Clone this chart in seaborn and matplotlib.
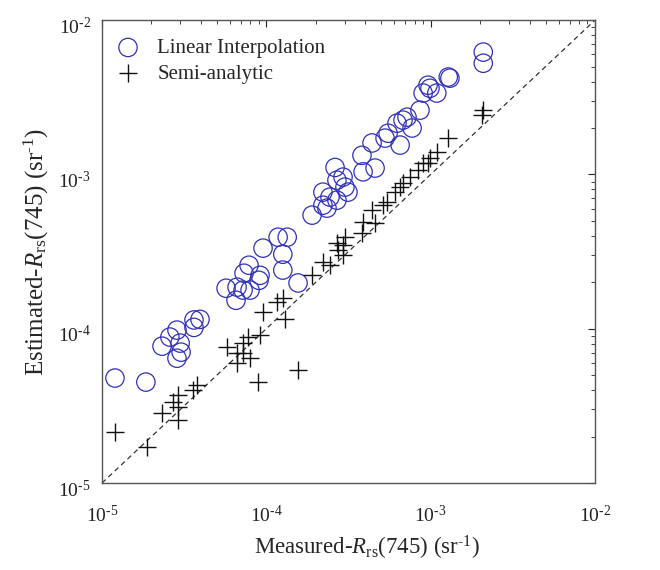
import numpy as np
import pandas as pd
import matplotlib
matplotlib.use("Agg")
import matplotlib.pyplot as plt
import matplotlib.transforms as mtransforms
import seaborn as sns
from matplotlib.ticker import LogLocator, FuncFormatter, NullFormatter

# ---- data ----
li_measured = [1.20e-5, 1.85e-5, 2.32e-5, 2.59e-5, 2.86e-5, 2.99e-5, 3.03e-5, 2.86e-5,
               3.63e-5, 3.63e-5, 3.95e-5, 5.69e-5, 6.64e-5, 6.54e-5, 7.22e-5, 7.96e-5,
               7.85e-5, 7.32e-5, 9.16e-5, 9.03e-5, 9.55e-5, 1.18e-4, 1.34e-4, 1.26e-4,
               1.26e-4, 1.56e-4, 2.09e-3, 2.09e-3, 1.28e-3, 1.31e-3, 9.00e-4, 9.91e-4,
               1.09e-3, 9.64e-4, 8.61e-4, 7.18e-4, 6.79e-4, 6.24e-4, 7.71e-4, 5.51e-4,
               5.28e-4, 6.52e-4, 4.40e-4, 3.82e-4, 4.59e-4, 3.88e-4, 2.62e-4, 2.93e-4,
               2.69e-4, 3.01e-4, 3.14e-4, 2.21e-4, 2.44e-4, 2.69e-4, 2.21e-4, 2.34e-4,
               1.90e-4]
li_estimated = [4.79e-5, 4.51e-5, 7.71e-5, 8.83e-5, 9.80e-5, 8.07e-5, 7.05e-5, 6.44e-5,
                1.02e-4, 1.14e-4, 1.15e-4, 1.83e-4, 1.86e-4, 1.53e-4, 1.78e-4, 1.78e-4,
                2.58e-4, 2.29e-4, 2.22e-4, 2.06e-4, 3.33e-4, 3.92e-4, 3.92e-4, 3.04e-4,
                2.40e-4, 1.98e-4, 6.21e-3, 5.26e-3, 4.28e-3, 4.21e-3, 3.37e-3, 3.62e-3,
                3.37e-3, 3.79e-3, 2.61e-3, 2.35e-3, 2.25e-3, 2.15e-3, 2.00e-3, 1.85e-3,
                1.72e-3, 1.55e-3, 1.60e-3, 1.33e-3, 1.10e-3, 1.04e-3, 1.11e-3, 9.61e-4,
                9.18e-4, 8.28e-4, 7.68e-4, 7.68e-4, 7.13e-4, 6.81e-4, 6.32e-4, 6.05e-4,
                5.45e-4]

sa_measured = [2.09e-3, 2.06e-3, 1.28e-3, 1.09e-3, 9.91e-4, 9.00e-4, 9.64e-4, 8.37e-4,
               7.50e-4, 6.79e-4, 6.52e-4, 6.07e-4, 5.43e-4, 5.13e-4, 4.40e-4, 3.88e-4,
               4.59e-4, 3.82e-4, 3.01e-4, 2.69e-4, 2.93e-4, 2.73e-4, 2.93e-4, 2.21e-4,
               2.44e-4, 1.90e-4, 1.26e-4, 1.16e-4, 9.55e-5, 1.30e-4, 9.16e-5, 7.74e-5,
               7.22e-5, 5.77e-5, 6.64e-5, 7.22e-5, 7.96e-5, 6.64e-5, 1.56e-4, 8.89e-5,
               3.78e-5, 3.58e-5, 2.90e-5, 2.70e-5, 2.32e-5, 2.90e-5, 2.90e-5, 1.20e-5,
               1.88e-5]
sa_estimated = [2.61e-3, 2.42e-3, 1.72e-3, 1.40e-3, 1.28e-3, 1.18e-3, 1.18e-3, 1.07e-3,
                9.61e-4, 8.80e-4, 8.28e-4, 7.68e-4, 6.61e-4, 6.32e-4, 5.87e-4, 4.91e-4,
                4.83e-4, 4.17e-4, 3.93e-4, 3.59e-4, 3.48e-4, 3.23e-4, 3.00e-4, 2.70e-4,
                2.58e-4, 2.22e-4, 1.58e-4, 1.49e-4, 1.28e-4, 1.15e-4, 9.10e-5, 8.83e-5,
                8.07e-5, 7.60e-5, 6.95e-5, 6.95e-5, 6.44e-5, 5.98e-5, 5.39e-5, 4.51e-5,
                4.31e-5, 4.00e-5, 3.72e-5, 3.34e-5, 2.84e-5, 3.10e-5, 2.56e-5, 2.14e-5,
                1.71e-5]

series_names = ["Linear Interpolation", "Semi-analytic"]
axis_limits = [1e-5, 1e-2]

# ---- styling ----
sns.set_style("white")
plt.rcParams["font.family"] = ["Liberation Serif", "DejaVu Serif"]
plt.rcParams["mathtext.fontset"] = "custom"
plt.rcParams["mathtext.rm"] = "Liberation Serif"
plt.rcParams["mathtext.it"] = "Liberation Serif:italic"
plt.rcParams["mathtext.bf"] = "Liberation Serif:bold"

HY = "\u2010"  # hyphen, like the reference's superscript sign

fig = plt.figure(figsize=(6.6, 5.7), dpi=100)
ax = fig.add_axes([0.1545, 0.1526, 0.747, 0.812])

df_li = pd.DataFrame({"x": li_measured, "y": li_estimated})
df_sa = pd.DataFrame({"x": sa_measured, "y": sa_estimated})

blue = "#3030b8"
sns.scatterplot(data=df_li, x="x", y="y", marker="o", s=175, color=blue,
                edgecolor=blue, linewidth=0.9, label=series_names[0], ax=ax)
ax.collections[-1].set_facecolor("none")
sns.scatterplot(data=df_sa, x="x", y="y", marker="+", s=150, color="#111111",
                linewidth=1.0, label=series_names[1], ax=ax)

ax.plot(axis_limits, axis_limits, linestyle=(0, (4, 3)), color="#333333", linewidth=0.9, zorder=0)

ax.set_xscale("log")
ax.set_yscale("log")
ax.set_xlim(axis_limits)
ax.set_ylim(axis_limits)


def fmt(v, pos):
    e = int(round(np.log10(v)))
    sign = HY if e < 0 else ""
    return r"$\mathregular{10^{%s%d}}$" % (sign, abs(e))


for axis in (ax.xaxis, ax.yaxis):
    axis.set_major_locator(LogLocator(base=10, numticks=10))
    axis.set_major_formatter(FuncFormatter(fmt))
    axis.set_minor_locator(LogLocator(base=10, subs=np.arange(2, 10), numticks=100))
    axis.set_minor_formatter(NullFormatter())

ax.tick_params(which="both", direction="in", top=True, right=True, colors="#222222",
               labelsize=14)
ax.tick_params(which="major", length=5, width=0.8)
ax.tick_params(which="minor", length=3, width=0.6)
ax.tick_params(axis="x", which="major", pad=16)
ax.tick_params(axis="y", which="major", pad=8)
for sp in ax.spines.values():
    sp.set_color("#555555")
    sp.set_linewidth(1.0)

ax.set_xlabel(r"Measured-$\mathit{R}_{\mathrm{rs}}$(745) (sr$^{\mathregular{%s1}}$)" % HY,
              fontsize=16.5, labelpad=5)
ax.set_ylabel(r"Estimated-$\mathit{R}_{\mathrm{rs}}$(745) (sr$^{\mathregular{%s1}}$)" % HY,
              fontsize=18, labelpad=5)
ax.xaxis.label.set_x(0.5375)

fig.canvas.draw()
shift = mtransforms.ScaledTranslation(0, -5 / 100, fig.dpi_scale_trans)
for lab in ax.yaxis.get_majorticklabels():
    lab.set_transform(lab.get_transform() + shift)

leg = ax.legend(loc="upper left", frameon=False, fontsize=15, handletextpad=0.4,
                borderaxespad=0.0, borderpad=0.25, labelspacing=0.3,
                bbox_to_anchor=(0.0, 0.972))

fig.savefig("out.png", dpi=100)
